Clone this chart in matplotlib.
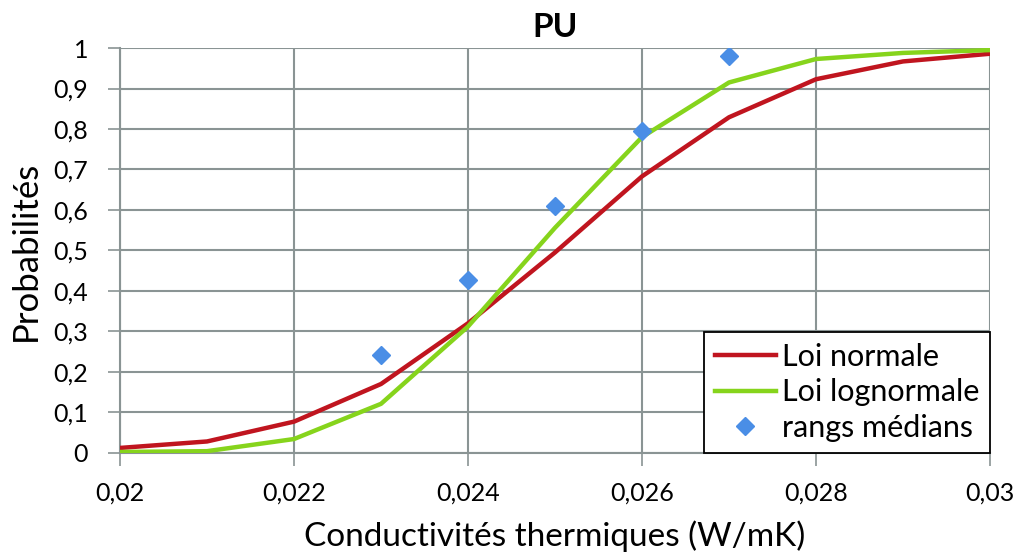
import matplotlib
matplotlib.use("Agg")
import matplotlib.pyplot as plt
from matplotlib.ticker import FuncFormatter, MultipleLocator

plt.rcParams['font.family'] = ['Lato', 'DejaVu Sans']

x_vals = [0.020, 0.021, 0.022, 0.023, 0.024, 0.025, 0.026, 0.027, 0.028, 0.029, 0.030]
loi_normale = [0.012, 0.028, 0.077, 0.17, 0.32, 0.495, 0.683, 0.829, 0.923, 0.967, 0.986]
loi_lognormale = [0.002, 0.004, 0.034, 0.121, 0.312, 0.556, 0.780, 0.915, 0.973, 0.988, 0.995]
x_rangs = [0.023, 0.024, 0.025, 0.026, 0.027]
rangs_medians = [0.242, 0.426, 0.610, 0.794, 0.981]

fig = plt.figure(figsize=(10.18, 5.59), dpi=100)
ax = fig.add_axes([0.1179, 0.19, 0.8546, 0.724])

grid_c = '#8a9494'
ax.plot(x_vals, loi_normale, color='#c0151f', lw=3.2, label='Loi normale', zorder=3)
ax.plot(x_vals, loi_lognormale, color='#86d41c', lw=3.2, label='Loi lognormale', zorder=3)
ax.plot(x_rangs, rangs_medians, linestyle='none', marker='D', markersize=9,
        color='#4a8ee6', label='rangs médians', zorder=4)

ax.set_xlim(0.02, 0.03)
ax.set_ylim(0, 1)
ax.xaxis.set_major_locator(MultipleLocator(0.002))
ax.yaxis.set_major_locator(MultipleLocator(0.1))

def fmt(v, pos):
    s = ('%.3f' % v).rstrip('0').rstrip('.')
    if s == '':
        s = '0'
    return s.replace('.', ',')
ax.xaxis.set_major_formatter(FuncFormatter(fmt))
ax.yaxis.set_major_formatter(FuncFormatter(fmt))

ax.grid(True, color=grid_c, lw=1.5, zorder=0)
ax.set_axisbelow(True)
for s in ['top', 'right']:
    ax.spines[s].set_visible(False)
ax.spines['left'].set_color(grid_c)
ax.spines['left'].set_linewidth(1.5)
ax.spines['bottom'].set_color(grid_c)
ax.spines['bottom'].set_linewidth(1.5)
ax.tick_params(axis='both', colors=grid_c, length=9, width=1.2, labelcolor='black', labelsize=18)
ax.tick_params(axis='x', pad=12)
ax.tick_params(axis='y', pad=14)

ax.set_title('PU', fontsize=24, fontweight='bold', pad=8)
ax.set_xlabel('Conductivités thermiques (W/mK)', fontsize=24, labelpad=11)
ax.set_ylabel('Probabilités', fontsize=25, labelpad=8)

leg = ax.legend(loc='lower right', bbox_to_anchor=(1.0, 0.0), borderaxespad=0,
                fontsize=22, frameon=True, fancybox=False, handlelength=2.0,
                handletextpad=0.2, labelspacing=0.25, borderpad=0.35)
leg.get_frame().set_edgecolor('black')
leg.get_frame().set_linewidth(1.3)
leg.get_frame().set_alpha(1)

fig.savefig('out.png', dpi=100)
